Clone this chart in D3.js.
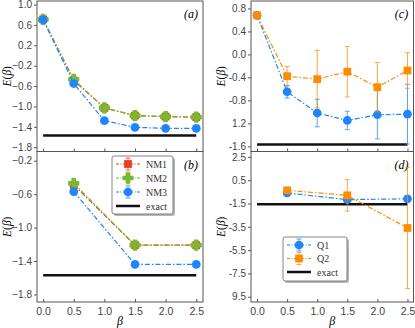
<!DOCTYPE html>
<html lang="en">
<head>
<meta charset="utf-8"/>
<script src="https://d3js.org/d3.v7.min.js"></script>
<style>
  body { margin: 0; background: #fff; }
  svg { display: block; font-family: "Liberation Serif", "DejaVu Serif", serif; }
  .tick text { fill: #444; }
</style>
</head>
<body>
<svg id="chart" width="415" height="328"></svg>
<script>
// ---- data ----
const betaA = [0, 0.5, 1.0, 1.5, 2.0, 2.5];
const nm1A = [0.71, -0.49, -1.03, -1.18, -1.20, -1.21];
const nm2A = [0.71, -0.47, -1.03, -1.18, -1.20, -1.21];
const nm3A = [0.70, -0.55, -1.28, -1.41, -1.43, -1.43];

const betaB = [0.5, 1.5, 2.5];
const nm1B = [-0.49, -1.21, -1.21];
const nm2B = [-0.47, -1.21, -1.21];
const nm3B = [-0.57, -1.44, -1.44];

const betaC = [0, 0.5, 1.0, 1.5, 2.0, 2.5];
const q1C = [0.68, -0.65, -1.02, -1.15, -1.05, -1.04];
const q1CErr = [0, 0.11, 0.24, 0.16, 0.42, 0.52];
const q2C = [0.68, -0.38, -0.43, -0.30, -0.57, -0.28];
const q2CErr = [0, 0.17, 0.50, 0.44, 0.43, 0.31];

const betaD = [0.5, 1.5, 2.5];
const q1D = [-0.59, -1.17, -1.10];
const q1DErr = [0.1, 0.15, 0.1];
const q2D = [-0.37, -0.80, -3.60];
const q2DErr = [0.1, 1.35, 5.2];

const exactE = -1.57;

const ticksA = [-1.8, -1.4, -1.0, -0.6, -0.2, 0.2, 0.6, 1.0];
const ticksB = [-1.8, -1.4, -1.0, -0.6, -0.2];
const ticksC = [-1.6, -1.2, -0.8, -0.4, 0.0, 0.4, 0.8];
const labelsC = ["-1.6", "1.2", "-0.8", "-0.4", "0.0", "0.4", "0.8"];
const ticksD = [-9.5, -7.5, -5.5, -3.5, -1.5, 0.5, 2.5];
const labelsD = ["9.5", "-7.5", "-5.5", "-3.5", "-1.5", "0.5", "2.5"];
const xTicks = [0, 0.5, 1.0, 1.5, 2.0, 2.5];

const RED = "#e8401c", GREEN = "#7cb82f", BLUE = "#1e85ff", ORANGE = "#ff8c00";
const DASH = "5,2,1.5,2";

const svg = d3.select("#chart");

function panel(box, xDom, yDom, yTicks, yLabels, showX, tag) {
  const x = d3.scaleLinear().domain(xDom).range([box.x0, box.x1]);
  const y = d3.scaleLinear().domain(yDom).range([box.y1, box.y0]);
  const g = svg.append("g");

  const ya = g.append("g")
    .attr("transform", `translate(${box.x0},0)`)
    .call(d3.axisLeft(y).tickValues(yTicks).tickSize(3).tickPadding(2)
      .tickFormat((d, i) => yLabels ? yLabels[i] : d3.format(".1f")(d)));
  ya.select(".domain").remove();
  ya.selectAll("line").attr("stroke", "#555");
  ya.selectAll("text").style("font-size", "10px");

  const xa = g.append("g")
    .attr("transform", `translate(0,${box.y1})`)
    .call(d3.axisBottom(x).tickValues(xTicks).tickSize(-3).tickPadding(6)
      .tickFormat(showX ? d3.format(".1f") : () => ""));
  xa.select(".domain").remove();
  xa.selectAll("line").attr("stroke", "#555");
  xa.selectAll("text").style("font-size", "10.5px");

  g.append("rect")
    .attr("x", box.x0).attr("y", box.y0)
    .attr("width", box.x1 - box.x0).attr("height", box.y1 - box.y0)
    .attr("fill", "none").attr("stroke", "#555").attr("stroke-width", 1);

  // exact line
  g.append("line")
    .attr("x1", x(0)).attr("x2", x(2.5))
    .attr("y1", y(exactE)).attr("y2", y(exactE))
    .attr("stroke", "#111").attr("stroke-width", 2.5);

  g.append("text")
    .attr("x", box.x1 - 12).attr("y", box.y0 + 17)
    .attr("text-anchor", "middle")
    .style("font-size", "12px").style("font-style", "italic")
    .text(tag);

  g.append("text")
    .attr("transform", `translate(${box.x0 - 26},${(box.y0 + box.y1) / 2}) rotate(-90)`)
    .attr("text-anchor", "middle")
    .style("font-size", "11.5px")
    .html('<tspan font-style="italic">E</tspan>(<tspan font-style="italic">β</tspan>)');

  if (showX) {
    g.append("text")
      .attr("x", (box.x0 + box.x1) / 2).attr("y", box.y1 + 23)
      .attr("text-anchor", "middle")
      .style("font-size", "12px").style("font-style", "italic")
      .text("β");
  }
  return { g, x, y };
}

function marker(sel, kind, color, cx, cy) {
  const sym = kind === "square" ? d3.symbolSquare : kind === "cross" ? d3.symbolCross : d3.symbolCircle;
  const size = kind === "square" ? 60 : kind === "cross" ? 52 : 60;
  sel.append("path")
    .attr("d", d3.symbol().type(sym).size(size)())
    .attr("transform", `translate(${cx},${cy})`)
    .attr("fill", color)
    .attr("stroke", kind === "cross" ? color : "none")
    .attr("stroke-width", kind === "cross" ? 1.5 : 0)
    .attr("stroke-linejoin", "round");
}

function series(p, xs, ys, errs, color, kind) {
  const line = d3.line().x((d, i) => p.x(xs[i])).y(d => p.y(d));
  p.g.append("path").datum(ys)
    .attr("d", line).attr("fill", "none")
    .attr("stroke", color).attr("stroke-width", 1.2)
    .attr("stroke-dasharray", DASH);
  if (errs) {
    ys.forEach((v, i) => {
      if (!errs[i]) return;
      const cx = p.x(xs[i]);
      const eg = p.g.append("g").attr("stroke", color).attr("stroke-width", 1).attr("opacity", 0.75);
      eg.append("line").attr("x1", cx).attr("x2", cx).attr("y1", p.y(v + errs[i])).attr("y2", p.y(v - errs[i]));
      eg.append("line").attr("x1", cx - 2.5).attr("x2", cx + 2.5).attr("y1", p.y(v + errs[i])).attr("y2", p.y(v + errs[i]));
      eg.append("line").attr("x1", cx - 2.5).attr("x2", cx + 2.5).attr("y1", p.y(v - errs[i])).attr("y2", p.y(v - errs[i]));
    });
  }
  ys.forEach((v, i) => marker(p.g, kind, color, p.x(xs[i]), p.y(v)));
}

function legend(box, items) {
  const g = svg.append("g");
  g.append("rect").attr("x", box.x + 2).attr("y", box.y + 2)
    .attr("width", box.w).attr("height", box.h).attr("rx", 2)
    .attr("fill", "#888").attr("opacity", 0.6);
  g.append("rect").attr("x", box.x).attr("y", box.y)
    .attr("width", box.w).attr("height", box.h).attr("rx", 2)
    .attr("fill", "#fff").attr("stroke", "#666").attr("stroke-width", 0.8);
  items.forEach((it, i) => {
    const yy = box.y + 8 + i * box.step;
    const lx0 = box.x + 4, lx1 = box.x + 28, mx = box.x + 16;
    if (it.kind === "exact") {
      g.append("line").attr("x1", lx0).attr("x2", lx1).attr("y1", yy).attr("y2", yy)
        .attr("stroke", "#111").attr("stroke-width", 2.5);
    } else {
      g.append("line").attr("x1", lx0).attr("x2", lx1).attr("y1", yy).attr("y2", yy)
        .attr("stroke", it.color).attr("stroke-width", 1.2).attr("stroke-dasharray", "3,1.5,1,1.5");
      g.append("line").attr("x1", mx).attr("x2", mx).attr("y1", yy - 6).attr("y2", yy + 6)
        .attr("stroke", it.color).attr("stroke-width", 1).attr("opacity", 0.75);
      g.append("line").attr("x1", mx - 2.5).attr("x2", mx + 2.5).attr("y1", yy - 6).attr("y2", yy - 6)
        .attr("stroke", it.color).attr("opacity", 0.75);
      g.append("line").attr("x1", mx - 2.5).attr("x2", mx + 2.5).attr("y1", yy + 6).attr("y2", yy + 6)
        .attr("stroke", it.color).attr("opacity", 0.75);
      marker(g, it.kind, it.color, mx, yy);
    }
    g.append("text").attr("x", box.x + 34).attr("y", yy + 3.5)
      .style("font-size", "10px").attr("fill", "#333").text(it.label);
  });
}

const boxA = { x0: 37, x1: 203, y0: 1, y1: 151.5 };
const boxB = { x0: 37, x1: 203, y0: 151.5, y1: 302 };
const boxC = { x0: 251, x1: 413.5, y0: 1, y1: 151.5 };
const boxD = { x0: 251, x1: 413.5, y0: 151.5, y1: 302 };

const pA = panel(boxA, [-0.1, 2.61], [-1.885, 1.07], ticksA, null, false, "(a)");
series(pA, betaA, nm1A, null, RED, "square");
series(pA, betaA, nm2A, null, GREEN, "cross");
series(pA, betaA, nm3A, null, BLUE, "circle");

const pB = panel(boxB, [-0.1, 2.61], [-1.89, -0.09], ticksB, null, true, "(b)");
series(pB, betaB, nm1B, null, RED, "square");
series(pB, betaB, nm2B, null, GREEN, "cross");
series(pB, betaB, nm3B, null, BLUE, "circle");

const pC = panel(boxC, [-0.1, 2.6], [-1.69, 0.93], ticksC, labelsC, false, "(c)");
series(pC, betaC, q1C, q1CErr, BLUE, "circle");
series(pC, betaC, q2C, q2CErr, ORANGE, "square");

const pD = panel(boxD, [-0.1, 2.6], [-9.95, 2.96], ticksD, labelsD, true, "(d)");
series(pD, betaD, q1D, q1DErr, BLUE, "circle");
series(pD, betaD, q2D, q2DErr, ORANGE, "square");

legend({ x: 112, y: 156, w: 61, h: 58, step: 14 }, [
  { label: "NM1", color: RED, kind: "square" },
  { label: "NM2", color: GREEN, kind: "cross" },
  { label: "NM3", color: BLUE, kind: "circle" },
  { label: "exact", kind: "exact" }
]);
legend({ x: 283, y: 237, w: 64, h: 44, step: 13.5 }, [
  { label: "Q1", color: BLUE, kind: "circle" },
  { label: "Q2", color: ORANGE, kind: "square" },
  { label: "exact", kind: "exact" }
]);
</script>
</body>
</html>
